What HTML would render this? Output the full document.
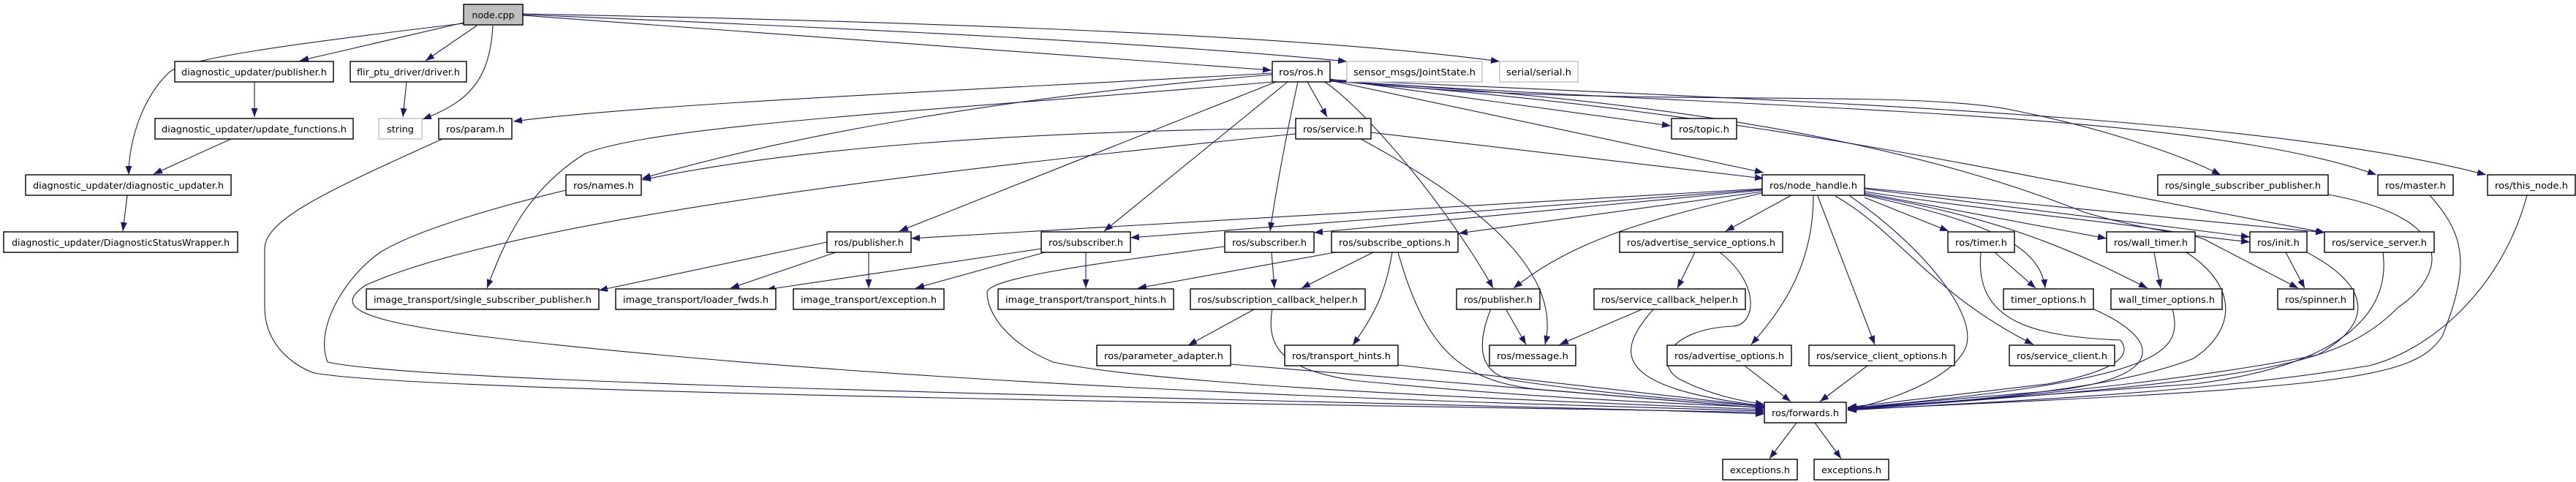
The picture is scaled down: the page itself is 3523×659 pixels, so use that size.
<!DOCTYPE html>
<html><head><meta charset="utf-8"><style>
html,body{margin:0;padding:0;background:#fff;}
svg{display:block;}
text{font-family:"DejaVu Sans","Liberation Sans",sans-serif;font-size:12.5px;fill:#000;}
.b{fill:#fff;stroke:#000;stroke-width:1.4;}
.g{fill:#fff;stroke:#bfbfbf;stroke-width:1.4;}
.e{fill:none;stroke:#191970;stroke-width:1.1;marker-end:url(#a);}
</style></head><body>
<svg width="3523" height="659" viewBox="0 0 3523 659" xmlns="http://www.w3.org/2000/svg">
<defs><marker id="a" markerUnits="userSpaceOnUse" markerWidth="14" markerHeight="10" refX="12" refY="4.5" orient="auto"><path d="M0,0 L12,4.5 L0,9 z" fill="#191970"/></marker></defs>

<!-- edges -->
<g>
<path class="e" d="M634,32 C400,60 250,80 230,100 C190,140 176,200 176,239"/>
<path class="e" d="M634,31 L410,83"/>
<path class="e" d="M652,35 L582,83"/>
<path class="e" d="M674,35 C670,110 640,140 578,163"/>
<path class="e" d="M715,21 L1739,96"/>
<path class="e" d="M715,20 C1200,40 1600,60 1842,84"/>
<path class="e" d="M715,19 C1300,30 1800,50 2051,84"/>
<path class="e" d="M348,112 L348,160"/>
<path class="e" d="M316,190 L210,238"/>
<path class="e" d="M174,267 L168,316"/>
<path class="e" d="M556,112 L551,160"/>
<path class="e" d="M1740,100 C1400,120 900,140 702,166"/>
<path class="e" d="M1740,102 C1400,130 1100,180 878,244"/>
<path class="e" d="M1772,175 C1400,180 1100,200 878,246"/>
<path class="e" d="M1741,112 C1300,150 900,170 800,210 C720,260 690,330 666,394"/>
<path class="e" d="M1745,112 L1230,316"/>
<path class="e" d="M1761,112 L1510,316"/>
<path class="e" d="M1775,112 C1760,180 1745,260 1737,316"/>
<path class="e" d="M1788,112 L1815,160"/>
<path class="e" d="M1812,112 C1880,160 1990,300 2042,394"/>
<path class="e" d="M1819,108 L2285,172"/>
<path class="e" d="M1819,110 L2412,236"/>
<path class="e" d="M1819,110 C2200,150 2600,120 2750,150 C2900,180 3000,220 3037,239"/>
<path class="e" d="M1819,110 C2400,150 3000,150 3250,239"/>
<path class="e" d="M1819,109 C2500,140 3100,160 3400,239"/>
<path class="e" d="M1819,111 C2400,140 2700,230 2850,290 C2950,320 3030,325 3077,331"/>
<path class="e" d="M1819,111 C2400,150 2800,250 3180,318"/>
<path class="e" d="M1875,181 L2412,244"/>
<path class="e" d="M1861,190 C1990,260 2140,360 2113,471"/>
<path class="e" d="M1772,183 C1300,230 700,300 500,390 C440,430 520,450 900,485 C1500,540 2200,555 2413,562"/>
<path class="e" d="M605,190 C450,260 362,300 362,340 L362,420 C362,470 400,500 430,510 C600,540 2000,555 2413,564"/>
<path class="e" d="M774,260 C650,290 560,320 520,345 C470,380 430,450 448,495 C600,530 2000,550 2413,566"/>
<path class="e" d="M1675,337 C1500,360 1350,380 1350,400 C1350,430 1380,470 1440,495 C1600,530 2200,552 2413,560"/>
<path class="e" d="M1131,331 L819,397"/>
<path class="e" d="M1143,345 L999,394"/>
<path class="e" d="M1188,345 L1188,394"/>
<path class="e" d="M1424,340 L1048,396"/>
<path class="e" d="M1429,345 L1252,394"/>
<path class="e" d="M1485,345 L1485,394"/>
<path class="e" d="M1826,345 L1556,394"/>
<path class="e" d="M1878,345 L1780,394"/>
<path class="e" d="M1904,345 C1895,400 1880,430 1850,472"/>
<path class="e" d="M1912,345 C1950,480 2000,520 2100,532 C2250,545 2350,552 2413,558"/>
<path class="e" d="M1739,345 L1743,394"/>
<path class="e" d="M1717,422 L1625,472"/>
<path class="e" d="M1740,422 C1730,480 1760,505 1850,520 C2100,545 2300,552 2413,557"/>
<path class="e" d="M1683,498 L2413,558"/>
<path class="e" d="M1912,499 L2413,556"/>
<path class="e" d="M2059,422 L2087,471"/>
<path class="e" d="M2039,422 C2020,470 2020,510 2070,520 C2200,540 2350,550 2413,556"/>
<path class="e" d="M2248,422 L2133,471"/>
<path class="e" d="M2262,422 C2210,480 2200,530 2413,555"/>
<path class="e" d="M2318,345 L2294,394"/>
<path class="e" d="M2352,345 C2410,390 2400,445 2370,446 C2280,450 2260,500 2300,520 C2340,540 2380,548 2413,553"/>
<path class="e" d="M2386,500 L2449,549"/>
<path class="e" d="M2554,500 L2489,549"/>
<path class="e" d="M2450,267 L2360,316"/>
<path class="e" d="M2410,264 C2250,300 2150,330 2070,394"/>
<path class="e" d="M2410,262 L1995,319"/>
<path class="e" d="M2410,260 L1797,318"/>
<path class="e" d="M2410,259 L1546,325"/>
<path class="e" d="M2410,258 L1246,326"/>
<path class="e" d="M2480,268 C2480,360 2440,420 2395,471"/>
<path class="e" d="M2486,268 L2564,471"/>
<path class="e" d="M2510,268 C2600,320 2640,400 2781,471"/>
<path class="e" d="M2530,268 C2620,330 2700,420 2690,470 C2680,510 2600,545 2527,560"/>
<path class="e" d="M2550,270 L2665,316"/>
<path class="e" d="M2550,267 C2700,300 2790,330 2797,394"/>
<path class="e" d="M2550,264 L2881,326"/>
<path class="e" d="M2550,266 C2750,300 2850,350 2937,394"/>
<path class="e" d="M2550,258 L3077,324"/>
<path class="e" d="M2550,262 C2800,300 2990,310 3020,330 L3143,394"/>
<path class="e" d="M2550,257 L3179,318"/>
<path class="e" d="M2728,345 L2784,394"/>
<path class="e" d="M2709,345 C2700,440 2780,460 2900,465 C2920,490 2880,510 2800,525 L2527,557"/>
<path class="e" d="M2946,345 L2955,394"/>
<path class="e" d="M2990,345 C3060,390 3060,450 3000,490 C2900,530 2700,550 2527,557"/>
<path class="e" d="M2862,422 C2970,470 2950,520 2800,535 L2527,558"/>
<path class="e" d="M2971,422 C2985,480 2970,520 2527,558"/>
<path class="e" d="M3126,345 L3152,394"/>
<path class="e" d="M3155,345 C3240,390 3250,440 3170,485 C3000,520 2700,550 2527,559"/>
<path class="e" d="M3259,345 C3270,430 3200,500 3000,525 L2527,559"/>
<path class="e" d="M3184,266 C3370,300 3340,380 3280,420 C3200,500 3100,520 2527,560"/>
<path class="e" d="M3323,267 C3370,320 3380,360 3340,460 C3300,520 3200,530 2527,560"/>
<path class="e" d="M3456,267 C3420,400 3320,480 3240,500 C3000,540 2700,550 2527,561"/>
<path class="e" d="M2457,578 L2420,627"/>
<path class="e" d="M2482,578 L2518,627"/>
</g>

<!-- nodes -->
<rect x="634" y="6" width="81" height="28" fill="#bfbfbf" stroke="#000" stroke-width="1.4"/><text x="674.5" y="25" text-anchor="middle">node.cpp</text>

<rect class="b" x="239" y="84" width="217" height="28"/><text x="347.5" y="103" text-anchor="middle" textLength="199" lengthAdjust="spacingAndGlyphs">diagnostic_updater/publisher.h</text>
<rect class="b" x="479" y="84" width="159" height="28"/><text x="558.5" y="103" text-anchor="middle" textLength="141" lengthAdjust="spacingAndGlyphs">flir_ptu_driver/driver.h</text>
<rect class="b" x="1740" y="84" width="79" height="28"/><text x="1779.5" y="103" text-anchor="middle" textLength="61" lengthAdjust="spacingAndGlyphs">ros/ros.h</text>
<rect class="g" x="1842" y="84" width="185" height="28"/><text x="1934.5" y="103" text-anchor="middle" textLength="167" lengthAdjust="spacingAndGlyphs">sensor_msgs/JointState.h</text>
<rect class="g" x="2051" y="84" width="107" height="28"/><text x="2104.5" y="103" text-anchor="middle" textLength="89" lengthAdjust="spacingAndGlyphs">serial/serial.h</text>

<rect class="b" x="212" y="162" width="271" height="28"/><text x="347.5" y="181" text-anchor="middle" textLength="253" lengthAdjust="spacingAndGlyphs">diagnostic_updater/update_functions.h</text>
<rect class="g" x="518" y="162" width="59" height="28"/><text x="547.5" y="181" text-anchor="middle" textLength="37" lengthAdjust="spacingAndGlyphs">string</text>
<rect class="b" x="600" y="162" width="100" height="28"/><text x="650" y="181" text-anchor="middle" textLength="80" lengthAdjust="spacingAndGlyphs">ros/param.h</text>
<rect class="b" x="1772" y="162" width="103" height="28"/><text x="1823.5" y="181" text-anchor="middle" textLength="83" lengthAdjust="spacingAndGlyphs">ros/service.h</text>
<rect class="b" x="2286" y="162" width="89" height="28"/><text x="2330.5" y="181" text-anchor="middle" textLength="69" lengthAdjust="spacingAndGlyphs">ros/topic.h</text>

<rect class="b" x="35" y="239" width="281" height="28"/><text x="175.5" y="258" text-anchor="middle" textLength="261" lengthAdjust="spacingAndGlyphs">diagnostic_updater/diagnostic_updater.h</text>
<rect class="b" x="774" y="239" width="103" height="28"/><text x="825.5" y="258" text-anchor="middle" textLength="83" lengthAdjust="spacingAndGlyphs">ros/names.h</text>
<rect class="b" x="2410" y="239" width="140" height="28"/><text x="2480" y="258" text-anchor="middle" textLength="120" lengthAdjust="spacingAndGlyphs">ros/node_handle.h</text>
<rect class="b" x="2951" y="239" width="233" height="28"/><text x="3067.5" y="258" text-anchor="middle" textLength="213" lengthAdjust="spacingAndGlyphs">ros/single_subscriber_publisher.h</text>
<rect class="b" x="3252" y="239" width="103" height="28"/><text x="3303.5" y="258" text-anchor="middle" textLength="83" lengthAdjust="spacingAndGlyphs">ros/master.h</text>
<rect class="b" x="3402" y="239" width="120" height="28"/><text x="3462" y="258" text-anchor="middle" textLength="100" lengthAdjust="spacingAndGlyphs">ros/this_node.h</text>

<rect class="b" x="5" y="317" width="320" height="28"/><text x="165" y="336" text-anchor="middle" textLength="298" lengthAdjust="spacingAndGlyphs">diagnostic_updater/DiagnosticStatusWrapper.h</text>
<rect class="b" x="1131" y="317" width="115" height="28"/><text x="1188.5" y="336" text-anchor="middle" textLength="95" lengthAdjust="spacingAndGlyphs">ros/publisher.h</text>
<rect class="b" x="1424" y="317" width="122" height="28"/><text x="1485" y="336" text-anchor="middle" textLength="102" lengthAdjust="spacingAndGlyphs">ros/subscriber.h</text>
<rect class="b" x="1675" y="317" width="122" height="28"/><text x="1736" y="336" text-anchor="middle" textLength="102" lengthAdjust="spacingAndGlyphs">ros/subscriber.h</text>
<rect class="b" x="1821" y="317" width="173" height="28"/><text x="1907.5" y="336" text-anchor="middle" textLength="153" lengthAdjust="spacingAndGlyphs">ros/subscribe_options.h</text>
<rect class="b" x="2215" y="317" width="223" height="28"/><text x="2326.5" y="336" text-anchor="middle" textLength="203" lengthAdjust="spacingAndGlyphs">ros/advertise_service_options.h</text>
<rect class="b" x="2664" y="317" width="91" height="28"/><text x="2709.5" y="336" text-anchor="middle" textLength="71" lengthAdjust="spacingAndGlyphs">ros/timer.h</text>
<rect class="b" x="2881" y="317" width="121" height="28"/><text x="2941.5" y="336" text-anchor="middle" textLength="101" lengthAdjust="spacingAndGlyphs">ros/wall_timer.h</text>
<rect class="b" x="3077" y="317" width="78" height="28"/><text x="3116" y="336" text-anchor="middle" textLength="58" lengthAdjust="spacingAndGlyphs">ros/init.h</text>
<rect class="b" x="3179" y="317" width="150" height="28"/><text x="3254" y="336" text-anchor="middle" textLength="130" lengthAdjust="spacingAndGlyphs">ros/service_server.h</text>

<rect class="b" x="501" y="395" width="318" height="28"/><text x="660" y="414" text-anchor="middle" textLength="298" lengthAdjust="spacingAndGlyphs">image_transport/single_subscriber_publisher.h</text>
<rect class="b" x="842" y="395" width="219" height="28"/><text x="951.5" y="414" text-anchor="middle" textLength="199" lengthAdjust="spacingAndGlyphs">image_transport/loader_fwds.h</text>
<rect class="b" x="1085" y="395" width="206" height="28"/><text x="1188" y="414" text-anchor="middle" textLength="186" lengthAdjust="spacingAndGlyphs">image_transport/exception.h</text>
<rect class="b" x="1365" y="395" width="240" height="28"/><text x="1485" y="414" text-anchor="middle" textLength="220" lengthAdjust="spacingAndGlyphs">image_transport/transport_hints.h</text>
<rect class="b" x="1628" y="395" width="239" height="28"/><text x="1747.5" y="414" text-anchor="middle" textLength="219" lengthAdjust="spacingAndGlyphs">ros/subscription_callback_helper.h</text>
<rect class="b" x="1992" y="395" width="114" height="28"/><text x="2049" y="414" text-anchor="middle" textLength="94" lengthAdjust="spacingAndGlyphs">ros/publisher.h</text>
<rect class="b" x="2180" y="395" width="207" height="28"/><text x="2283.5" y="414" text-anchor="middle" textLength="187" lengthAdjust="spacingAndGlyphs">ros/service_callback_helper.h</text>
<rect class="b" x="2740" y="395" width="123" height="28"/><text x="2801.5" y="414" text-anchor="middle" textLength="103" lengthAdjust="spacingAndGlyphs">timer_options.h</text>
<rect class="b" x="2887" y="395" width="152" height="28"/><text x="2963" y="414" text-anchor="middle" textLength="132" lengthAdjust="spacingAndGlyphs">wall_timer_options.h</text>
<rect class="b" x="3115" y="395" width="104" height="28"/><text x="3167" y="414" text-anchor="middle" textLength="84" lengthAdjust="spacingAndGlyphs">ros/spinner.h</text>

<rect class="b" x="1500" y="472" width="183" height="28"/><text x="1591.5" y="491" text-anchor="middle" textLength="163" lengthAdjust="spacingAndGlyphs">ros/parameter_adapter.h</text>
<rect class="b" x="1757" y="472" width="155" height="28"/><text x="1834.5" y="491" text-anchor="middle" textLength="135" lengthAdjust="spacingAndGlyphs">ros/transport_hints.h</text>
<rect class="b" x="2037" y="472" width="118" height="28"/><text x="2096" y="491" text-anchor="middle" textLength="98" lengthAdjust="spacingAndGlyphs">ros/message.h</text>
<rect class="b" x="2280" y="472" width="170" height="28"/><text x="2365" y="491" text-anchor="middle" textLength="150" lengthAdjust="spacingAndGlyphs">ros/advertise_options.h</text>
<rect class="b" x="2474" y="472" width="199" height="28"/><text x="2573.5" y="491" text-anchor="middle" textLength="179" lengthAdjust="spacingAndGlyphs">ros/service_client_options.h</text>
<rect class="b" x="2748" y="472" width="144" height="28"/><text x="2820" y="491" text-anchor="middle" textLength="124" lengthAdjust="spacingAndGlyphs">ros/service_client.h</text>

<rect class="b" x="2413" y="550" width="112" height="28"/><text x="2469" y="569" text-anchor="middle" textLength="92" lengthAdjust="spacingAndGlyphs">ros/forwards.h</text>

<rect class="b" x="2356" y="628" width="102" height="28"/><text x="2407" y="647" text-anchor="middle" textLength="82" lengthAdjust="spacingAndGlyphs">exceptions.h</text>
<rect class="b" x="2481" y="628" width="102" height="28"/><text x="2532" y="647" text-anchor="middle" textLength="82" lengthAdjust="spacingAndGlyphs">exceptions.h</text>
</svg>
</body></html>
